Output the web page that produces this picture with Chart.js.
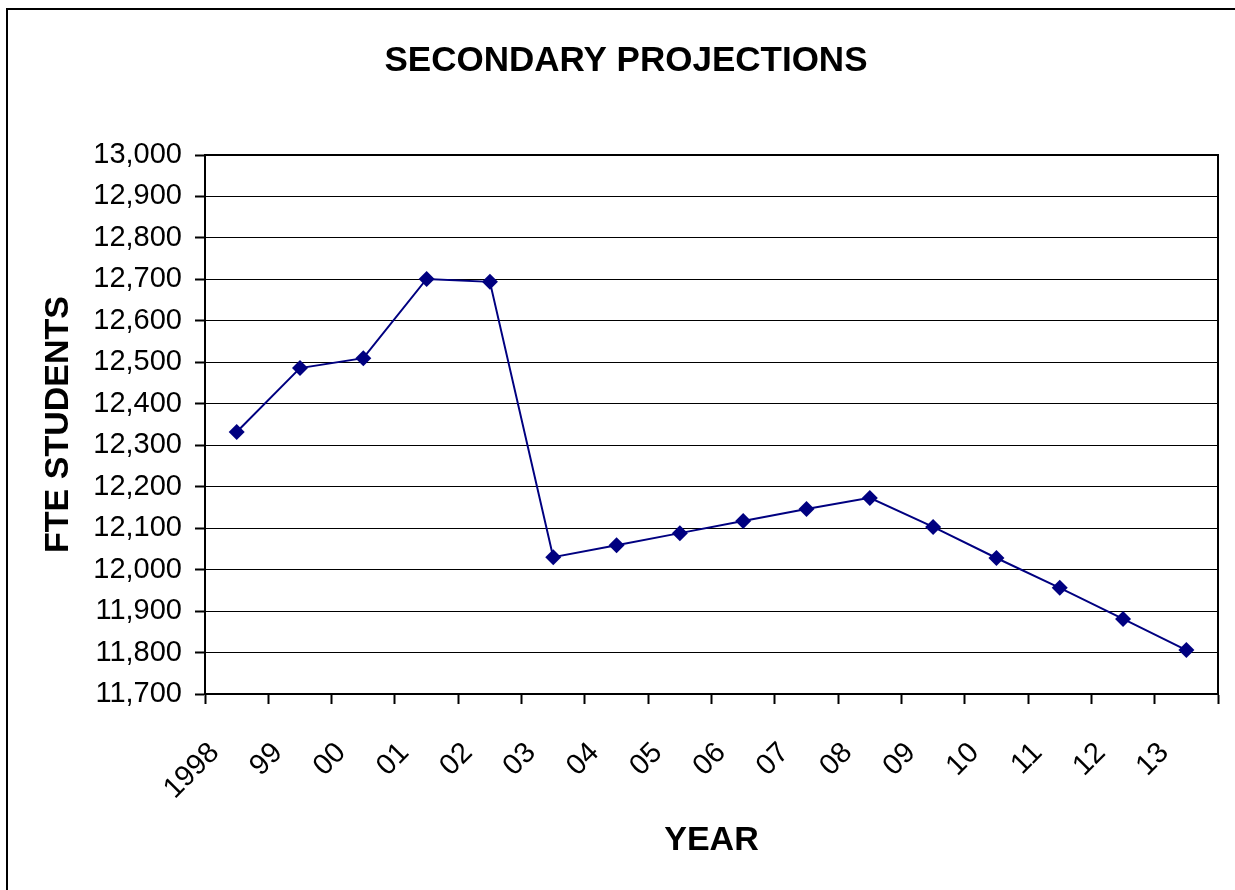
<!DOCTYPE html>
<html>
<head>
<meta charset="utf-8">
<script src="https://cdn.jsdelivr.net/npm/chart.js@4"></script>
<style>
  html, body { margin: 0; padding: 0; background: #fff; }
  #wrap { width: 1235px; height: 890px; position: relative; }
</style>
</head>
<body>
<div id="wrap"><canvas id="chart" width="1235" height="890"></canvas></div>
<script>
const years = ['1998', '99', '00', '01', '02', '03', '04', '05', '06', '07', '08', '09', '10', '11', '12', '13'];
const fteStudents = [12332, 12486, 12510, 12701, 12694, 12030, 12059, 12088, 12117, 12146, 12173, 12103, 12028, 11956, 11881, 11806];
const yMin = 11700;
const yMax = 13000;
const yStep = 100;

document.addEventListener('DOMContentLoaded', () => {
    const ctx = document.getElementById('chart').getContext('2d');
    const fontFamily = '"Liberation Sans", Arial, sans-serif';

    // white background, outer frame and plot border
    const framePlugin = {
        id: 'frame',
        beforeDraw(chart) {
            const c = chart.ctx;
            c.save();
            c.fillStyle = '#fff';
            c.fillRect(0, 0, chart.width, chart.height);
            c.strokeStyle = '#000';
            c.lineWidth = 2;
            c.beginPath();
            c.moveTo(7, chart.height + 5);
            c.lineTo(7, 9);
            c.lineTo(chart.width + 5, 9);
            c.stroke();
            c.restore();
        },
        afterDatasetsDraw(chart) {
            const a = chart.chartArea;
            const c = chart.ctx;
            c.save();
            c.strokeStyle = '#000';
            c.lineWidth = 2;
            c.strokeRect(a.left, a.top, a.right - a.left, a.bottom - a.top);
            c.restore();
        }
    };

    new Chart(ctx, {
        type: 'line',
        data: {
            labels: years,
            datasets: [{
                label: 'FTE STUDENTS',
                data: fteStudents,
                borderColor: '#000080',
                backgroundColor: '#000080',
                borderWidth: 2,
                fill: false,
                tension: 0,
                pointStyle: 'rectRot',
                pointRadius: 8,
                pointBorderWidth: 0
            }]
        },
        options: {
            responsive: false,
            animation: false,
            layout: { padding: { left: 34, right: 17, top: 0, bottom: 0 } },
            plugins: {
                legend: { display: false },
                tooltip: { enabled: false },
                title: {
                    display: true,
                    text: 'SECONDARY PROJECTIONS',
                    color: '#000',
                    font: { family: fontFamily, size: 35, weight: 'bold', lineHeight: 1.2 },
                    padding: { top: 40, bottom: 73 }
                }
            },
            scales: {
                x: {
                    type: 'category',
                    offset: true,
                    afterFit(scale) {
                        scale.height = 196;
                        scale.paddingLeft = 0;
                        scale.paddingRight = 0;
                    },
                    grid: {
                        offset: true,
                        drawOnChartArea: false,
                        drawTicks: true,
                        tickLength: 10,
                        tickWidth: 2,
                        tickColor: '#000'
                    },
                    border: { display: true, color: '#000', width: 2 },
                    ticks: {
                        color: '#000',
                        font: { family: fontFamily, size: 29 },
                        minRotation: 45,
                        maxRotation: 45,
                        autoSkip: false,
                        padding: 32,
                        labelOffset: -22
                    },
                    title: {
                        display: true,
                        text: 'YEAR',
                        color: '#000',
                        font: { family: fontFamily, size: 34, weight: 'bold', lineHeight: 1.2 },
                        padding: { top: 0, bottom: 29 }
                    }
                },
                y: {
                    min: yMin,
                    max: yMax,
                    afterFit(scale) { scale.width = 171; },
                    grid: {
                        color: '#000',
                        lineWidth: 1,
                        drawTicks: true,
                        tickLength: 10,
                        tickWidth: 2,
                        tickColor: '#000'
                    },
                    border: { display: true, color: '#000', width: 2 },
                    ticks: {
                        stepSize: yStep,
                        color: '#000',
                        font: { family: fontFamily, size: 29 },
                        padding: 13,
                        callback: (v) => v.toLocaleString('en-US')
                    },
                    title: {
                        display: true,
                        text: 'FTE STUDENTS',
                        color: '#000',
                        font: { family: fontFamily, size: 34, weight: 'bold', lineHeight: 1.2 },
                        padding: { top: 4, bottom: 0 }
                    }
                }
            }
        },
        plugins: [framePlugin]
    });
});
</script>
</body>
</html>
